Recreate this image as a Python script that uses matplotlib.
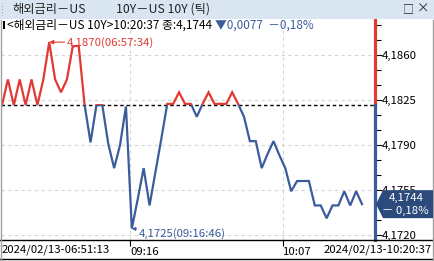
import numpy as np
import matplotlib.pyplot as plt
from matplotlib.patches import Rectangle, Polygon
from matplotlib.ticker import FixedLocator, FuncFormatter

plt.rcParams['font.family'] = ['Noto Sans CJK KR', 'DejaVu Sans']

# tick-by-tick quotes (index based x axis)
prices = [
    4.1821, 4.1841, 4.1821, 4.1841, 4.1821, 4.1841, 4.1821, 4.1841, 4.1870, 4.1841,
    4.1831, 4.1841, 4.1867, 4.1867, 4.1821, 4.1792, 4.1821, 4.1821, 4.1791, 4.1772,
    4.1790, 4.1820, 4.1725, 4.1748, 4.1772, 4.1743, 4.1769, 4.1795, 4.1822, 4.1822,
    4.1831, 4.1822, 4.1822, 4.1812, 4.1822, 4.1831, 4.1822, 4.1822, 4.1822, 4.1831,
    4.1822, 4.1812, 4.1793, 4.1793, 4.1772, 4.1783, 4.1793, 4.1782, 4.1772, 4.1754,
    4.1762, 4.1762, 4.1762, 4.1743, 4.1743, 4.1733, 4.1743, 4.1743, 4.1754, 4.1743,
    4.1754, 4.1744,
]
prev_close = 4.1821
last_price = 4.1744
change = "0,0077"
change_pct = "－0,18%"

time_tick_labels = ["09:16", "10:07"]
time_tick_idx = [21.7, 47.6]
start_label = "2024/02/13-06:51:13"
end_label = "2024/02/13-10:20:37"

max_label = "4,1870(06:57:34)"
min_label = "4,1725(09:16:46)"

y_major = [4.1720, 4.1755, 4.1790, 4.1825, 4.1860]

RED = "#e23a32"
BLUE = "#3b5c9c"
NAVY = "#2c4a7c"
FS = 8.2

W, H = 434, 261
fig = plt.figure(figsize=(W / 100, H / 100), dpi=100)
fig.patch.set_facecolor("white")

# plot area in pixels: x 1..375, y 20..240 (from top)
ax = fig.add_axes([1 / W, (H - 240) / H, 374 / W, 220 / H])
ax.set_facecolor("white")

x = np.arange(len(prices))
ymin, ymax = 4.171611, 4.188722
xmin, xmax = -0.17, 63.2
ax.set_xlim(xmin, xmax)
ax.set_ylim(ymin, ymax)

for s in ["top", "left", "right", "bottom"]:
    ax.spines[s].set_visible(False)

# grid
for v in y_major:
    ax.axhline(v, color="#d4d4d4", lw=0.8, ls=(0, (3, 3)), zorder=1)
for t in time_tick_idx:
    ax.axvline(t, color="#d4d4d4", lw=0.8, ls=(0, (3, 3)), zorder=1)

# previous close line
ax.axhline(prev_close, color="black", lw=1.0, ls=(0, (2.5, 2)), zorder=2)

# price line: red above previous close, blue below
red_line, = ax.plot(x, prices, color=RED, lw=1.6, zorder=3, solid_joinstyle="miter")
blue_line, = ax.plot(x, prices, color=BLUE, lw=1.6, zorder=3, solid_joinstyle="miter")
red_clip = Rectangle((xmin, prev_close), xmax - xmin, ymax - prev_close, transform=ax.transData)
blue_clip = Rectangle((xmin, ymin), xmax - xmin, prev_close - ymin, transform=ax.transData)
red_line.set_clip_path(red_clip)
blue_line.set_clip_path(blue_clip)

# right axis line, coloured in two parts
frac = (prev_close - ymin) / (ymax - ymin)
ax.axvline(xmax, ymin=frac, ymax=1, color=RED, lw=2.3, clip_on=False, zorder=5)
ax.axvline(xmax, ymin=0, ymax=frac, color=BLUE, lw=2.3, clip_on=False, zorder=5)

# y ticks on the right
ax.yaxis.tick_right()
ax.yaxis.set_major_locator(FixedLocator(y_major))
minor = [y_major[0] + i * 0.0035 / 3 for i in range(-1, 15)]
ax.yaxis.set_minor_locator(FixedLocator(minor))
ax.yaxis.set_major_formatter(FuncFormatter(lambda v, p: f"{v:.4f}".replace(".", ",")))
ax.tick_params(axis="y", which="major", length=5, width=0.8, pad=0, labelsize=FS, colors="black")
ax.tick_params(axis="y", which="minor", length=4, width=0.8)

# x ticks
ax.set_xticks(time_tick_idx)
ax.set_xticklabels(time_tick_labels)
for lab in ax.get_xticklabels():
    lab.set_horizontalalignment("left")
ax.tick_params(axis="x", length=4, width=0.8, pad=1, labelsize=FS, colors="black")

# high / low annotations
imax = int(np.argmax(prices))
imin = int(np.argmin(prices))
ax.annotate(max_label, xy=(imax, prices[imax]), xytext=(18, 0), textcoords="offset pixels",
            color=RED, fontsize=FS, va="center", ha="left",
            arrowprops=dict(arrowstyle="-|>", color=RED, lw=0.8, mutation_scale=6,
                            shrinkA=0, shrinkB=0), zorder=6)
ax.annotate(min_label, xy=(imin, prices[imin]), xytext=(7, -5), textcoords="offset pixels",
            color=BLUE, fontsize=FS, va="center", ha="left",
            arrowprops=dict(arrowstyle="-|>", color=BLUE, lw=0.8, mutation_scale=5,
                            shrinkA=0, shrinkB=0), zorder=6)


def fx(px):
    return px / W


def fy(py):
    return (H - py) / H


# current value tag
fig.canvas.draw()
ytag = H - ax.transData.transform((0, last_price))[1]
tag = [(376, ytag), (383, ytag - 14), (433, ytag - 14), (433, ytag + 14), (383, ytag + 14)]
fig.patches.append(Polygon([(fx(a), fy(b)) for a, b in tag], closed=True,
                           transform=fig.transFigure, facecolor=NAVY, edgecolor="none", zorder=10))
fig.text(fx(406), fy(ytag - 6), f"{last_price:.4f}".replace(".", ","), color="white",
         fontsize=FS, ha="center", va="center", zorder=11)
fig.text(fx(405), fy(ytag + 7), "－ 0,18%", color="white", fontsize=FS, ha="center",
         va="center", zorder=11)

# title bar
fig.patches.append(Rectangle((0, fy(19)), 1, 19 / H, transform=fig.transFigure,
                             facecolor="#d9e6f2", edgecolor="none", zorder=0))
for k in range(5):
    fig.patches.append(Rectangle((fx(2), fy(4 + 3 * k)), 1 / W, 1 / H, transform=fig.transFigure,
                                 facecolor="#9aa8b6", edgecolor="none"))
fig.text(fx(12), fy(9), "해외금리－US", fontsize=8.8, ha="left", va="center", color="#222222")
fig.text(fx(116), fy(9), "10Y－US 10Y (틱)", fontsize=8.8, ha="left", va="center", color="#222222")
fig.text(fx(408), fy(9), "□", fontsize=8, ha="center", va="center", color="#222222")
fig.text(fx(423), fy(9), "×", fontsize=9, ha="center", va="center", color="#222222")

# info line
fig.patches.append(Rectangle((fx(3), fy(29)), 2 / W, 8 / H, transform=fig.transFigure,
                             facecolor="black", edgecolor="none"))
info = fig.text(fx(7), fy(25), f"<해외금리－US 10Y>10:20:37 종:{last_price:.4f}".replace(".", ","),
                fontsize=8.5, ha="left", va="center", color="black")
fig.canvas.draw()
bb = info.get_window_extent()
fig.text(bb.x1 / W + fx(3), fy(25), f"▼{change}  {change_pct}", fontsize=8.5, ha="left",
         va="center", color=BLUE)

# frame lines
fig.add_artist(plt.Line2D([0, 1], [fy(240), fy(240)], transform=fig.transFigure, color="black", lw=1))
fig.add_artist(plt.Line2D([0, 1], [fy(259), fy(259)], transform=fig.transFigure, color="black", lw=1))
fig.add_artist(plt.Line2D([fx(0.5), fx(0.5)], [fy(20), fy(260)], transform=fig.transFigure,
                          color="#a0a0a0", lw=1))
fig.add_artist(plt.Line2D([fx(433), fx(433)], [fy(20), fy(260)], transform=fig.transFigure,
                          color="#a0a0a0", lw=1))

# start / end timestamps
fig.text(fx(2), fy(250), start_label, fontsize=FS, ha="left", va="center")
fig.text(fx(432), fy(250), end_label, fontsize=FS, ha="right", va="center")

fig.savefig("out.png", dpi=100)
